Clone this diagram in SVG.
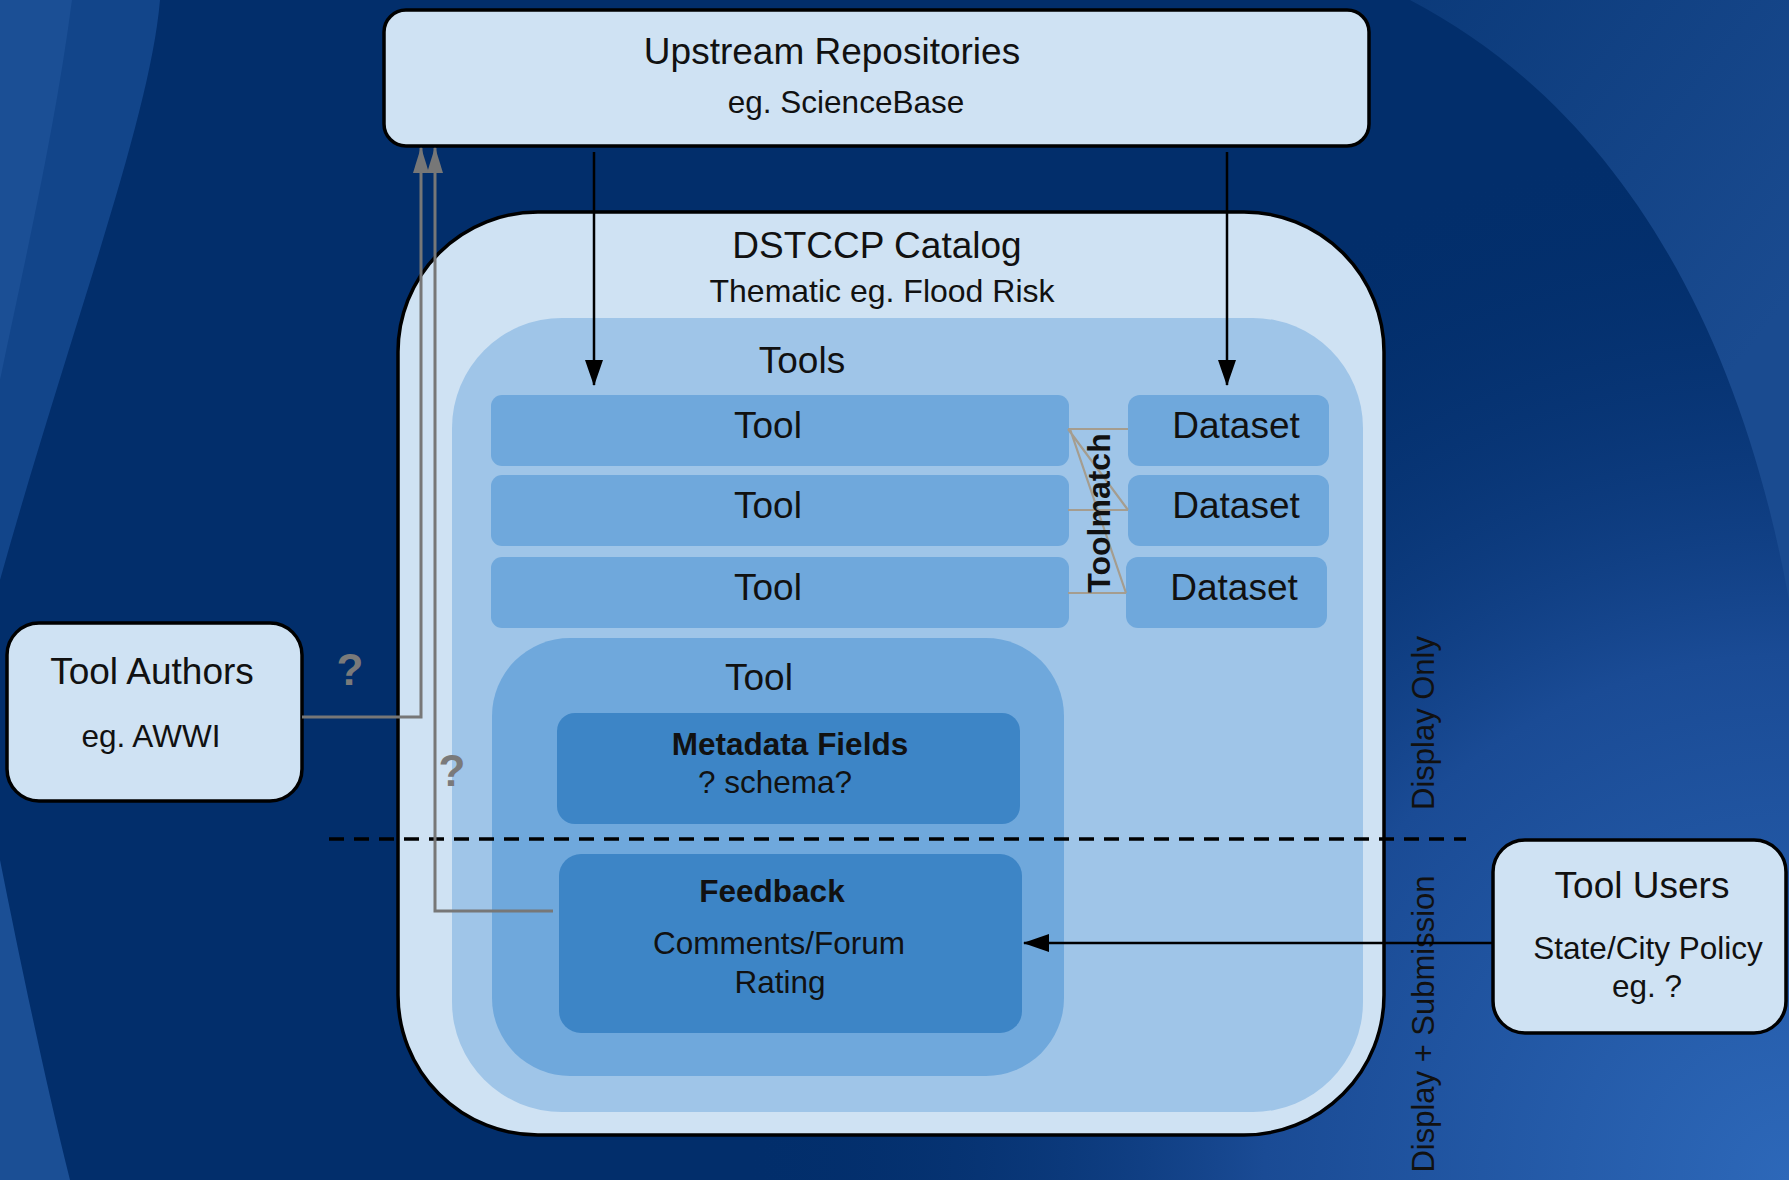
<svg xmlns="http://www.w3.org/2000/svg" width="1789" height="1180" viewBox="0 0 1789 1180">
<style>
text{font-family:"Liberation Sans",Arial,sans-serif;fill:#111;text-anchor:middle}
.t36{font-size:37px}
.t31{font-size:31.5px}
.b31{font-size:31.5px;font-weight:bold}
.q{font-size:44px;font-weight:bold;fill:#7a7a7a}
.rot{font-size:31px}
.outer{fill:#cfe2f3;stroke:#000;stroke-width:3.5}
.lvl2{fill:#9fc5e8}
.lvl3{fill:#6fa8dc}
.lvl4{fill:#3d85c6}
.blk{stroke:#000;stroke-width:2.5;fill:none}
.gry{stroke:#777;stroke-width:3;fill:none}
.tm{stroke:#a59d8f;stroke-width:2.2;fill:none}
</style>
<defs>
<marker id="ab" markerUnits="userSpaceOnUse" markerWidth="26" markerHeight="18" refX="25" refY="9" orient="auto"><path d="M0,0 L26,9 L0,18 Z" fill="#000"/></marker>
<marker id="ag" markerUnits="userSpaceOnUse" markerWidth="26" markerHeight="16" refX="25" refY="8" orient="auto"><path d="M0,0 L26,8 L0,16 Z" fill="#777"/></marker>
<radialGradient id="rg" cx="1789" cy="1180" r="1050" gradientUnits="userSpaceOnUse">
<stop offset="0" stop-color="#2d68b9"/>
<stop offset="0.5" stop-color="#1a4b95"/>
<stop offset="1" stop-color="#022e6b" stop-opacity="0"/>
</radialGradient>
<linearGradient id="tr" x1="1400" y1="0" x2="1789" y2="300" gradientUnits="userSpaceOnUse">
<stop offset="0" stop-color="#0b3a7a"/>
<stop offset="1" stop-color="#1a4b90"/>
</linearGradient>
</defs>

<g id="background">
<rect width="1789" height="1180" fill="#022e6b"/>
<rect width="1789" height="1180" fill="url(#rg)"/>
<path d="M1410,0 C1620,110 1740,330 1789,600 L1789,0 Z" fill="url(#tr)"/>
<path d="M0,0 L160,0 C150,120 70,330 0,580 Z" fill="#12458a"/>
<path d="M0,0 L72,0 C55,130 25,260 0,380 Z" fill="#1b4f95"/>
<path d="M0,860 C20,960 45,1080 70,1180 L0,1180 Z" fill="#1b4f95"/>
</g>

<g id="upstream">
<rect class="outer" x="384" y="10" width="985" height="136" rx="22"/>
<text class="t36" x="832" y="64">Upstream Repositories</text>
<text class="t31" x="846" y="113">eg. ScienceBase</text>
</g>

<g id="catalog">
<rect class="outer" x="398" y="212" width="986" height="923" rx="140"/>
<text class="t36" x="877" y="258">DSTCCP Catalog</text>
<text class="t31" x="882" y="302" style="font-size:32px">Thematic eg. Flood Risk</text>
</g>

<g id="tools">
<rect class="lvl2" x="452" y="318" width="911" height="794" rx="110"/>
<text class="t36" x="802" y="373">Tools</text>
</g>

<g id="tool1"><rect class="lvl3" x="491" y="395" width="578" height="71" rx="11"/><text class="t36" x="768" y="438">Tool</text></g>
<g id="tool2"><rect class="lvl3" x="491" y="475" width="578" height="71" rx="11"/><text class="t36" x="768" y="518">Tool</text></g>
<g id="tool3"><rect class="lvl3" x="491" y="557" width="578" height="71" rx="11"/><text class="t36" x="768" y="600">Tool</text></g>

<g id="dataset1"><rect class="lvl3" x="1128" y="395" width="201" height="71" rx="12"/><text class="t36" x="1236" y="438">Dataset</text></g>
<g id="dataset2"><rect class="lvl3" x="1128" y="475" width="201" height="71" rx="12"/><text class="t36" x="1236" y="518">Dataset</text></g>
<g id="dataset3"><rect class="lvl3" x="1126" y="557" width="201" height="71" rx="12"/><text class="t36" x="1234" y="600">Dataset</text></g>

<g id="tool-detail">
<rect class="lvl3" x="492" y="638" width="572" height="438" rx="78"/>
<text class="t36" x="759" y="690">Tool</text>
</g>

<g id="metadata">
<rect class="lvl4" x="557" y="713" width="463" height="111" rx="18"/>
<text class="b31" x="790" y="755">Metadata Fields</text>
<text class="t31" x="775" y="793">? schema?</text>
</g>

<g id="feedback">
<rect class="lvl4" x="559" y="854" width="463" height="179" rx="22"/>
<text class="b31" x="772" y="902">Feedback</text>
<text class="t31" x="779" y="954">Comments/Forum</text>
<text class="t31" x="780" y="993">Rating</text>
</g>

<g id="tool-authors">
<rect class="outer" x="7" y="623" width="295" height="178" rx="32"/>
<text class="t36" x="152" y="684">Tool Authors</text>
<text class="t31" x="151" y="747">eg. AWWI</text>
</g>

<g id="tool-users">
<rect class="outer" x="1493" y="840" width="293" height="193" rx="32"/>
<text class="t36" x="1642" y="898">Tool Users</text>
<text class="t31" x="1648" y="959">State/City Policy</text>
<text class="t31" x="1647" y="997">eg. ?</text>
</g>

<g id="zones">
<line x1="329" y1="839" x2="1466" y2="839" stroke="#000" stroke-width="3.5" stroke-dasharray="15 10"/>
<text class="rot" transform="translate(1434,723) rotate(-90)">Display Only</text>
<text class="rot" transform="translate(1434,1024) rotate(-90)">Display + Submission</text>
</g>

<g id="connectors">
<path class="tm" d="M1068,429 L1128,429 M1068,429 L1128,510 M1068,510 L1128,510 M1070,429 L1126,593 M1068,593 L1126,593"/>
<text class="b31" transform="translate(1110,513) rotate(-90)" style="font-size:32px">Toolmatch</text>
<path class="blk" d="M594,152 L594,385" marker-end="url(#ab)"/>
<path class="blk" d="M1227,152 L1227,385" marker-end="url(#ab)"/>
<path class="blk" d="M1493,943 L1024,943" marker-end="url(#ab)"/>
<path class="gry" d="M302,717 L421,717 L421,148" marker-end="url(#ag)"/>
<path class="gry" d="M553,911 L435,911 L435,148" marker-end="url(#ag)"/>
<text class="q" x="350" y="685">?</text>
<text class="q" x="452" y="786">?</text>
</g>
</svg>
